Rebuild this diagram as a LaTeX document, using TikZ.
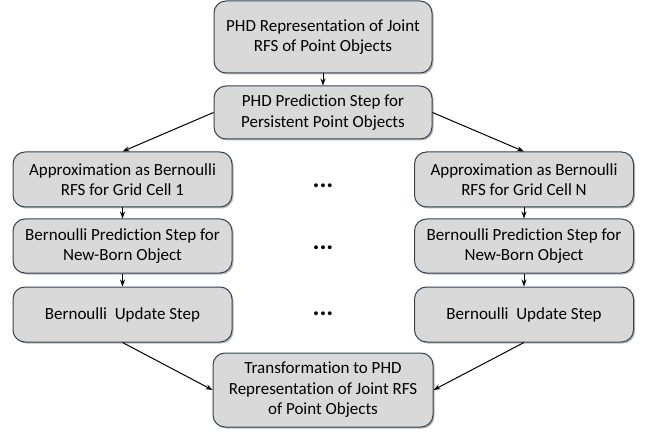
\documentclass[tikz,border=0pt]{standalone}
\usepackage{fontspec}
\setmainfont{Carlito}[Ligatures={NoCommon}]
\usetikzlibrary{shadows,arrows.meta}
\definecolor{boxfill}{RGB}{217,217,217}
\definecolor{boxedge}{RGB}{52,68,84}
\tikzset{
  stepbox/.style={draw=boxedge, line width=1pt, fill=boxfill, rounded corners=12pt,
    align=center, inner sep=0pt, font=\fontsize{17}{20.5}\selectfont,
    drop shadow={shadow xshift=1.5pt, shadow yshift=-1.5pt, fill=black!45, opacity=0.6}},
  conn/.style={-{Stealth[length=7pt,width=5pt]}, line width=1pt, black},
  dotsnode/.style={font=\fontsize{26}{28}\selectfont\bfseries, inner sep=0pt, anchor=base}
}
\begin{document}
\begin{tikzpicture}[x=1pt,y=-1pt]
\useasboundingbox (0,0) rectangle (646,433);
\node[stepbox, minimum width=218pt, minimum height=72pt] (top) at (323,37) {PHD Representation of Joint\\RFS of Point Objects};
\node[stepbox, minimum width=218pt, minimum height=53pt] (pred) at (323,112.5) {PHD Prediction Step for\\Persistent Point Objects};
\node[stepbox, minimum width=219pt, minimum height=55pt] (la) at (122.5,179.5) {Approximation as Bernoulli\\RFS for Grid Cell 1};
\node[stepbox, minimum width=219pt, minimum height=54pt] (lb) at (122.5,246) {Bernoulli Prediction Step for\\New-Born Object};
\node[stepbox, minimum width=219pt, minimum height=55pt] (lc) at (122.5,314.5) {Bernoulli\ \ Update Step};
\node[stepbox, minimum width=219pt, minimum height=55pt] (ra) at (524,179.5) {Approximation as Bernoulli\\RFS for Grid Cell N};
\node[stepbox, minimum width=219pt, minimum height=54pt] (rb) at (524,246) {Bernoulli Prediction Step for\\New-Born Object};
\node[stepbox, minimum width=219pt, minimum height=55pt] (rc) at (524,314.5) {Bernoulli\ \ Update Step};
\node[stepbox, minimum width=220pt, minimum height=74pt] (bot) at (323,390) {Transformation to PHD\\Representation of Joint RFS\\of Point Objects};
\node[dotsnode] (d1) at (323,188) {...};
\node[dotsnode] (d2) at (323,250) {...};
\node[dotsnode] (d3) at (323,316) {...};
\draw[conn] (top) -- (pred);
\draw[conn] (pred.west) -- (la.north);
\draw[conn] (pred.east) -- (ra.north);
\draw[conn] (la) -- (lb);
\draw[conn] (lb) -- (lc);
\draw[conn] (ra) -- (rb);
\draw[conn] (rb) -- (rc);
\draw[conn] (lc.south) -- (bot.west);
\draw[conn] (rc.south) -- (bot.east);
\end{tikzpicture}
\end{document}
